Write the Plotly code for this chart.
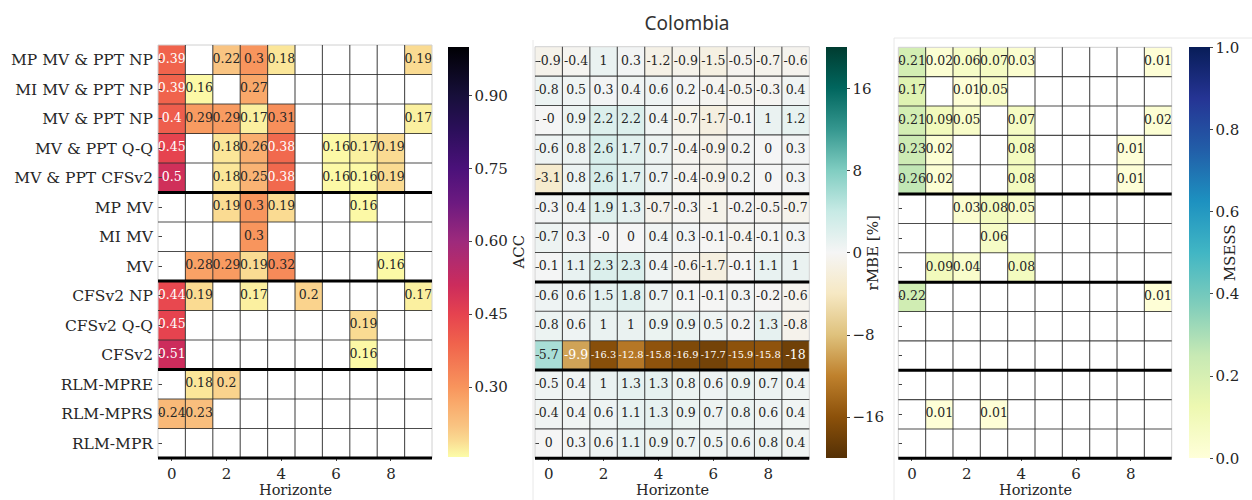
import numpy as np
import plotly.graph_objects as go
import plotly.colors as pc

nan = np.nan

# ---------------- data ----------------
models = ["MP MV & PPT NP", "MI MV & PPT NP", "MV & PPT NP", "MV & PPT Q-Q",
          "MV & PPT CFSv2", "MP MV", "MI MV", "MV", "CFSv2 NP", "CFSv2 Q-Q",
          "CFSv2", "RLM-MPRE", "RLM-MPRS", "RLM-MPR"]
horizons = list(range(10))
group_starts = [5, 8, 11]

acc = [
    [0.39, nan, 0.22, 0.30, 0.18, nan, nan, nan, nan, 0.19],
    [0.39, 0.16, nan, 0.27, nan, nan, nan, nan, nan, nan],
    [0.40, 0.29, 0.29, 0.17, 0.31, nan, nan, nan, nan, 0.17],
    [0.45, nan, 0.18, 0.26, 0.38, nan, 0.16, 0.17, 0.19, nan],
    [0.50, nan, 0.18, 0.25, 0.38, nan, 0.16, 0.16, 0.19, nan],
    [nan, nan, 0.19, 0.30, 0.19, nan, nan, 0.16, nan, nan],
    [nan, nan, nan, 0.30, nan, nan, nan, nan, nan, nan],
    [nan, 0.28, 0.29, 0.19, 0.32, nan, nan, nan, 0.16, nan],
    [0.44, 0.19, nan, 0.17, nan, 0.20, nan, nan, nan, 0.17],
    [0.45, nan, nan, nan, nan, nan, nan, 0.19, nan, nan],
    [0.51, nan, nan, nan, nan, nan, nan, 0.16, nan, nan],
    [nan, 0.18, 0.20, nan, nan, nan, nan, nan, nan, nan],
    [0.24, 0.23, nan, nan, nan, nan, nan, nan, nan, nan],
    [nan, nan, nan, nan, nan, nan, nan, nan, nan, nan],
]

rmbe = [
    [-0.9, -0.4, 1.0, 0.3, -1.2, -0.9, -1.5, -0.5, -0.7, -0.6],
    [0.8, 0.5, 0.3, 0.4, 0.6, 0.2, -0.4, -0.5, -0.3, 0.4],
    [-0.0, 0.9, 2.2, 2.2, 0.4, -0.7, -1.7, -0.1, 1.0, 1.2],
    [0.6, 0.8, 2.6, 1.7, 0.7, -0.4, -0.9, 0.2, 0.0, 0.3],
    [-3.1, 0.8, 2.6, 1.7, 0.7, -0.4, -0.9, 0.2, 0.0, 0.3],
    [0.3, 0.4, 1.9, 1.3, -0.7, -0.3, -1.0, -0.2, -0.5, -0.7],
    [0.7, 0.3, -0.0, 0.0, 0.4, 0.3, -0.1, -0.4, -0.1, 0.3],
    [0.1, 1.1, 2.3, 2.3, 0.4, -0.6, -1.7, -0.1, 1.1, 1.0],
    [0.6, 0.6, 1.5, 1.8, 0.7, 0.1, -0.1, 0.3, -0.2, -0.6],
    [0.8, 0.6, 1.0, 1.0, 0.9, 0.9, 0.5, 0.2, 1.3, -0.8],
    [5.7, -9.9, -16.3, -12.8, -15.8, -16.9, -17.7, -15.9, -15.8, -18.0],
    [0.5, 0.4, 1.0, 1.3, 1.3, 0.8, 0.6, 0.9, 0.7, 0.4],
    [0.4, 0.4, 0.6, 1.1, 1.3, 0.9, 0.7, 0.8, 0.6, 0.4],
    [0.0, 0.3, 0.6, 1.1, 0.9, 0.7, 0.5, 0.6, 0.8, 0.4],
]

msess = [
    [0.21, 0.02, 0.06, 0.07, 0.03, nan, nan, nan, nan, 0.01],
    [0.17, nan, 0.01, 0.05, nan, nan, nan, nan, nan, nan],
    [0.21, 0.09, 0.05, nan, 0.07, nan, nan, nan, nan, 0.02],
    [0.23, 0.02, nan, nan, 0.08, nan, nan, nan, 0.01, nan],
    [0.26, 0.02, nan, nan, 0.08, nan, nan, nan, 0.01, nan],
    [nan, nan, 0.03, 0.08, 0.05, nan, nan, nan, nan, nan],
    [nan, nan, nan, 0.06, nan, nan, nan, nan, nan, nan],
    [nan, 0.09, 0.04, nan, 0.08, nan, nan, nan, nan, nan],
    [0.22, nan, nan, nan, nan, nan, nan, nan, nan, 0.01],
    [nan] * 10,
    [nan] * 10,
    [nan] * 10,
    [nan, 0.01, nan, 0.01, nan, nan, nan, nan, nan, nan],
    [nan] * 10,
]

acc_ticks = [0.30, 0.45, 0.60, 0.75, 0.90]
rmbe_ticks = [-16, -8, 0, 8, 16]
msess_ticks = [0.0, 0.2, 0.4, 0.6, 0.8, 1.0]

# ---------------- styles ----------------
FONT = "DejaVu Serif"
TXT = "#262626"
W, H = 1252, 500

acc_min, acc_max = 0.157, 1.0
acc_stops = [0.157, 0.17, 0.19, 0.22, 0.27, 0.30, 0.39, 0.45, 0.51, 0.60, 0.68, 0.75, 0.83, 0.90, 1.0]
acc_cols = ["#fcfca8", "#fbf0a0", "#fadb92", "#f9c482", "#f9a86a", "#f8955d", "#f0634c",
            "#e6434f", "#cc2c5c", "#9e2a7c", "#6c1a80", "#4b117a", "#2b0f5a", "#170f3a", "#000004"]
acc_scale = [[(v - acc_min) / (acc_max - acc_min), c] for v, c in zip(acc_stops, acc_cols)]
acc_scale[0][0] = 0.0
acc_scale[-1][0] = 1.0

brbg_scale = [[i / (len(pc.diverging.BrBG) - 1), c] for i, c in enumerate(pc.diverging.BrBG)]
ylgnbu_scale = [[i / (len(pc.sequential.YlGnBu) - 1), c] for i, c in enumerate(pc.sequential.YlGnBu)]


def to_rgb(c):
    if c.startswith("#"):
        return tuple(int(c[i:i + 2], 16) for i in (1, 3, 5))
    return tuple(int(float(x)) for x in c[c.index("(") + 1:c.index(")")].split(","))


def color_at(scale, t):
    t = min(max(t, 0.0), 1.0)
    for (t0, c0), (t1, c1) in zip(scale[:-1], scale[1:]):
        if t <= t1:
            f = 0 if t1 == t0 else (t - t0) / (t1 - t0)
            a, b = to_rgb(c0), to_rgb(c1)
            return tuple(a[k] + f * (b[k] - a[k]) for k in range(3))
    return to_rgb(scale[-1][1])


def lum(rgb):
    out = []
    for v in rgb:
        v = v / 255
        out.append(v / 12.92 if v <= 0.03928 else ((v + 0.055) / 1.055) ** 2.4)
    return 0.2126 * out[0] + 0.7152 * out[1] + 0.0722 * out[2]


def fmt(v, nd):
    r = round(v, nd)
    if v == 0 and np.signbit(v):
        r = -0.0
    return format(r, "g")


panels = [
    dict(z=acc, scale=acc_scale, zmin=acc_min, zmax=acc_max, nd=2, thr=0.33,
         dom=(158, 432, 45, 458), cbx=448, cby=(46.7, 456.7), title="ACC",
         ticks=acc_ticks, tickfmt=".2f", labels=True),
    dict(z=rmbe, scale=brbg_scale, zmin=-20, zmax=20, nd=1, thr=0.408,
         dom=(535, 809.3, 46.7, 458.3), cbx=826, cby=(47.3, 458.3), title="rMBE [%]",
         ticks=rmbe_ticks, tickfmt="d", labels=False),
    dict(z=msess, scale=ylgnbu_scale, zmin=0, zmax=1, nd=2, thr=0.408,
         dom=(898.3, 1171.7, 47.3, 458.3), cbx=1189.3, cby=(47.3, 458.3), title="MSESS",
         ticks=msess_ticks, tickfmt=".1f", labels=False),
]

fig = go.Figure()
rows = list(range(len(models)))
shapes = []
annotations = []
GRID = "rgba(45,45,45,0.85)"

for i, p in enumerate(panels):
    ax = "" if i == 0 else str(i + 1)
    xa, ya = "x" + ax, "y" + ax
    z = np.array(p["z"], dtype=float)
    x0, x1, yt, yb = p["dom"]
    c0, c1 = p["cby"]
    fig.add_trace(go.Heatmap(
        z=z, x=horizons, y=rows, xaxis=xa, yaxis=ya,
        colorscale=p["scale"], zmin=p["zmin"], zmax=p["zmax"], hoverongaps=False,
        colorbar=dict(
            x=p["cbx"] / W, xanchor="left", xpad=0, ypad=0,
            y=1 - (c0 + c1) / 2 / H, yanchor="middle",
            len=c1 - c0, lenmode="pixels", thickness=20.5, thicknessmode="pixels",
            outlinewidth=0, ticks="outside", ticklen=3, tickcolor="#444",
            tickvals=p["ticks"], tickformat=p["tickfmt"],
            tickfont=dict(family=FONT, size=15, color=TXT),
            title=dict(text=p["title"], side="right", font=dict(family=FONT, size=15, color=TXT)),
        ),
    ))
    # cell annotations
    tx, ty, tt, tc, ts = [], [], [], [], []
    for r in rows:
        for c in horizons:
            v = z[r, c]
            if np.isnan(v):
                continue
            s = fmt(v, p["nd"])
            tx.append(c)
            ty.append(r)
            tt.append(s)
            ts.append(12.5 if len(s) <= 4 else 9.8)
            t = (v - p["zmin"]) / (p["zmax"] - p["zmin"])
            tc.append("white" if lum(color_at(p["scale"], t)) < p["thr"] else TXT)
    fig.add_trace(go.Scatter(
        x=tx, y=ty, text=tt, mode="text", xaxis=xa, yaxis=ya,
        textfont=dict(family=FONT, size=ts, color=tc), hoverinfo="skip", showlegend=False,
    ))

    fig.update_layout(**{
        "xaxis" + ax: dict(
            domain=[x0 / W, x1 / W], anchor=ya, range=[-0.5, len(horizons) - 0.5],
            tickvals=horizons[::2], ticks="outside", ticklen=2, tickcolor="#444",
            tickfont=dict(family=FONT, size=15, color=TXT), showgrid=False, zeroline=False,
            showline=False,
        ),
        "yaxis" + ax: dict(
            domain=[1 - yb / H, 1 - yt / H], anchor=xa, range=[len(models) - 0.5, -0.5],
            tickvals=rows, ticktext=models if p["labels"] else [""] * len(models),
            ticks="inside", ticklen=4, tickcolor="#444", ticklabelstandoff=4,
            tickfont=dict(family=FONT, size=15.5, color=TXT), showgrid=False, zeroline=False,
            showline=False,
        ),
    })
    # x-axis title
    annotations.append(dict(text="Horizonte", xref=xa + " domain", yref=ya + " domain", x=0.5, y=0,
                            xanchor="center", yanchor="middle", yshift=-(490 - yb), showarrow=False,
                            borderpad=0, font=dict(family=FONT, size=14.5, color=TXT)))

    # frame
    shapes.append(dict(type="rect", xref=xa + " domain", yref=ya + " domain", x0=0, x1=1, y0=0, y1=1,
                       line=dict(color="#d0d0d0", width=1), layer="above"))
    # inner cell boundaries
    for k in range(1, len(horizons)):
        shapes.append(dict(type="line", xref=xa, yref=ya + " domain", x0=k - 0.5, x1=k - 0.5, y0=0, y1=1,
                           line=dict(color=GRID, width=1.1), layer="above"))
    for k in range(1, len(models)):
        if k in group_starts:
            continue
        shapes.append(dict(type="line", xref=xa + " domain", yref=ya, x0=0, x1=1, y0=k - 0.5, y1=k - 0.5,
                           line=dict(color=GRID, width=1.1), layer="above"))
    for g in group_starts:
        shapes.append(dict(type="line", xref=xa + " domain", yref=ya, x0=0, x1=1, y0=g - 0.5, y1=g - 0.5,
                           line=dict(color="black", width=3), layer="above"))
    shapes.append(dict(type="line", xref=xa + " domain", yref=ya + " domain", x0=0, x1=1, y0=0, y1=0,
                       line=dict(color="black", width=3), layer="above"))

# faint borders of the composed sub-figures
for (xa0, ya0, xa1, ya1) in [(533, 40, 533, 500), (894, 38, 894, 500), (894, 38, 1252, 38)]:
    shapes.append(dict(type="line", xref="paper", yref="paper", x0=xa0 / W, x1=xa1 / W,
                       y0=1 - ya0 / H, y1=1 - ya1 / H, line=dict(color="#e8e8e8", width=1), layer="below"))

fig.update_layout(
    width=W, height=H, margin=dict(l=0, r=0, t=0, b=0),
    paper_bgcolor="white", plot_bgcolor="white", showlegend=False,
    font=dict(family=FONT, color=TXT),
    title=dict(text="Colombia", x=687 / W, xanchor="center", y=1 - 23 / H, yanchor="middle",
               font=dict(family="Noto Sans", size=19, color="#333333")),
    shapes=shapes, annotations=annotations,
)

fig.write_html("out.html")
